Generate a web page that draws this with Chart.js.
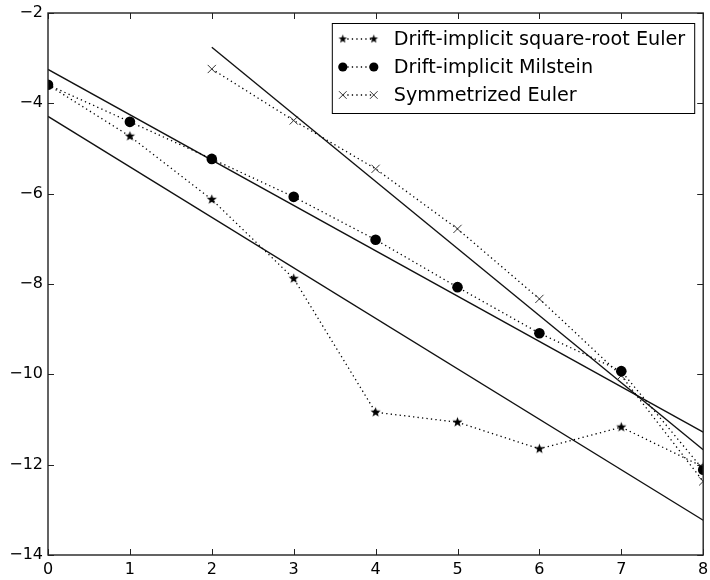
<!DOCTYPE html>
<html><head><meta charset="utf-8">
<script src="https://cdn.jsdelivr.net/npm/chart.js@4.4.0/dist/chart.umd.min.js"></script>
<style>html,body{margin:0;padding:0;background:#fff}#wrap{width:710px;height:580px;position:relative}</style>
</head><body><div id="wrap"><canvas id="c" width="710" height="580"></canvas></div>
<script>
// ---- data ----
const xTicks = [0,1,2,3,4,5,6,7,8];
const yTicks = [-14,-12,-10,-8,-6,-4,-2];
const stepsAll = [0,1,2,3,4,5,6,7,8];
const stepsSym = [2,3,4,5,6,7,8];
const sqrtEuler = [-3.59,-4.73,-6.13,-7.88,-10.84,-11.06,-11.65,-11.17,-12.05];
const milstein  = [-3.59,-4.41,-5.23,-6.07,-7.02,-8.07,-9.09,-9.93,-12.11];
const symEuler  = [-3.24,-4.38,-5.45,-6.78,-8.33,-10.03,-12.37];
const fitUpperX = [0,8], fitUpperY = [-3.25,-11.28];
const fitLowerX = [0,8], fitLowerY = [-4.29,-13.23];
const fitSymX   = [2,8], fitSymY   = [-2.76,-11.67];
const legendLabels = ['Drift-implicit square-root Euler','Drift-implicit Milstein','Symmetrized Euler'];

const FONT = "'DejaVu Sans', sans-serif";
function pts(xs, ys){ return xs.map((x,i)=>({x:x, y:ys[i]})); }

function starImg(r){
  const s = Math.ceil(r*2+4), c = document.createElement('canvas');
  c.width = s; c.height = s;
  const g = c.getContext('2d');
  g.translate(s/2, s/2);
  g.beginPath();
  for(let i=0;i<10;i++){
    const rad = (i%2===0) ? r : r*0.42;
    const a = -Math.PI/2 + i*Math.PI/5;
    const px = rad*Math.cos(a), py = rad*Math.sin(a);
    if(i===0) g.moveTo(px,py); else g.lineTo(px,py);
  }
  g.closePath(); g.fillStyle = '#000'; g.fill();
  return c;
}
const starPlot = starImg(5.3);
const starLeg = starImg(4.5);

const dotted = {borderColor:'#000', borderWidth:1.3, borderDash:[1.3,3.2], fill:false, tension:0, clip:0};
const solid = {borderColor:'#111', borderWidth:1.4, pointRadius:0, fill:false, tension:0, clip:0};

const datasets = [
  Object.assign({label:legendLabels[0], data:pts(stepsAll, sqrtEuler), pointStyle:starPlot, pointRadius:5, backgroundColor:'#000'}, dotted),
  Object.assign({label:legendLabels[1], data:pts(stepsAll, milstein), pointStyle:'circle', pointRadius:5.3, pointBackgroundColor:'#000', pointBorderWidth:0}, dotted),
  Object.assign({label:legendLabels[2], data:pts(stepsSym, symEuler), pointStyle:'crossRot', pointRadius:5.8, pointBorderColor:'#333', pointBorderWidth:1}, dotted),
  Object.assign({label:'fit1', data:pts(fitUpperX, fitUpperY)}, solid),
  Object.assign({label:'fit2', data:pts(fitLowerX, fitLowerY)}, solid),
  Object.assign({label:'fit3', data:pts(fitSymX, fitSymY)}, solid)
];

const framePlugin = {
  id:'frame',
  afterDraw(chart){
    const ctx = chart.ctx, a = chart.chartArea, xs = chart.scales.x, ys = chart.scales.y;
    ctx.save();
    ctx.strokeStyle = '#222'; ctx.lineWidth = 1;
    const tl = 6;
    ctx.beginPath();
    xTicks.forEach(v=>{
      const px = Math.round(xs.getPixelForValue(v))+0.5;
      ctx.moveTo(px, a.bottom); ctx.lineTo(px, a.bottom - tl);
      ctx.moveTo(px, a.top); ctx.lineTo(px, a.top + tl);
    });
    yTicks.forEach(v=>{
      const py = Math.round(ys.getPixelForValue(v))+0.5;
      ctx.moveTo(a.left, py); ctx.lineTo(a.left + tl, py);
      ctx.moveTo(a.right, py); ctx.lineTo(a.right - tl, py);
    });
    ctx.stroke();
    ctx.lineWidth = 1.4; ctx.strokeStyle = '#222';
    ctx.strokeRect(a.left, a.top, a.right - a.left, a.bottom - a.top);
    ctx.restore();
  }
};

const legendPlugin = {
  id:'mplLegend',
  afterDraw(chart){
    const ctx = chart.ctx, a = chart.chartArea;
    ctx.save();
    ctx.font = "19.2px " + FONT;
    let tw = 0;
    legendLabels.forEach(t=>{ tw = Math.max(tw, ctx.measureText(t).width); });
    const right = a.right - 9, top = a.top + 10;
    const textOff = 62, rowH = 28;
    const width = textOff + tw + 9;
    const left = right - width;
    const height = 90;
    ctx.fillStyle = '#fff';
    ctx.fillRect(left, top, width, height);
    ctx.strokeStyle = '#000'; ctx.lineWidth = 1;
    ctx.strokeRect(left+0.5, top+0.5, width, height);
    const m1 = left + 11, m2 = left + 42;
    for(let i=0;i<3;i++){
      const cy = top + 16 + i*rowH;
      ctx.save();
      ctx.strokeStyle = '#000'; ctx.lineWidth = 1.3; ctx.setLineDash([1.3,3.2]);
      ctx.beginPath(); ctx.moveTo(m1, cy); ctx.lineTo(m2, cy); ctx.stroke();
      ctx.restore();
      [m1, m2].forEach(mx=>{
        if(i===0){
          ctx.drawImage(starLeg, mx - starLeg.width/2, cy - starLeg.height/2);
        } else if(i===1){
          ctx.fillStyle = '#000'; ctx.beginPath(); ctx.arc(mx, cy, 4.6, 0, Math.PI*2); ctx.fill();
        } else {
          ctx.strokeStyle = '#333'; ctx.lineWidth = 1; ctx.beginPath();
          ctx.moveTo(mx-3.8, cy-3.8); ctx.lineTo(mx+3.8, cy+3.8);
          ctx.moveTo(mx-3.8, cy+3.8); ctx.lineTo(mx+3.8, cy-3.8); ctx.stroke();
        }
      });
      ctx.fillStyle = '#000'; ctx.textBaseline = 'middle'; ctx.textAlign = 'left';
      ctx.fillText(legendLabels[i], left + textOff, cy + 1);
    }
    ctx.restore();
  }
};

const minus = v => v < 0 ? '\u2212' + Math.abs(v) : String(v);

new Chart(document.getElementById('c'), {
  type:'line',
  data:{datasets:datasets},
  options:{
    responsive:false, animation:false, devicePixelRatio:1,
    layout:{padding:{top:13, right:3.5, left:0, bottom:0}},
    plugins:{legend:{display:false}, tooltip:{enabled:false}},
    elements:{line:{borderCapStyle:'butt'}},
    scales:{
      x:{type:'linear', min:0, max:8,
         grid:{display:false, drawTicks:false}, border:{display:false},
         ticks:{stepSize:1, padding:5, color:'#000', font:{family:FONT, size:16}, maxRotation:0, autoSkip:false},
         afterBuildTicks: s => { s.ticks = xTicks.map(v=>({value:v})); },
         afterFit: s => { s.height = 25; s.paddingLeft = 0; s.paddingRight = 0; }
      },
      y:{type:'linear', min:-14, max:-2,
         grid:{display:false, drawTicks:false}, border:{display:false},
         ticks:{stepSize:2, padding:5, color:'#000', font:{family:FONT, size:16}, callback: minus},
         afterBuildTicks: s => { s.ticks = yTicks.map(v=>({value:v})); },
         afterFit: s => { s.width = 48; s.paddingTop = 0; s.paddingBottom = 0; }
      }
    }
  },
  plugins:[framePlugin, legendPlugin]
});
</script></body></html>
